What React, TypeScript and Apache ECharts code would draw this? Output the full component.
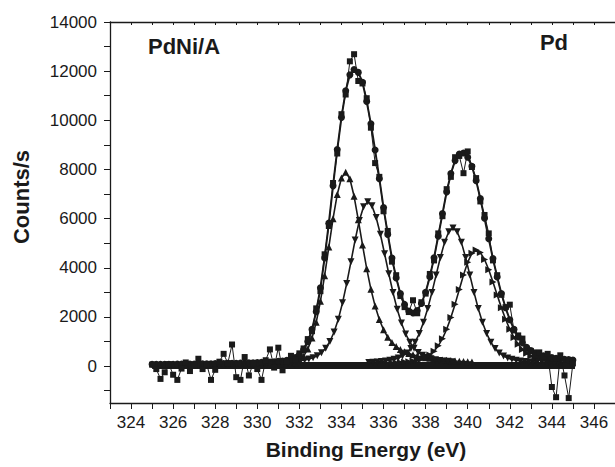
import React, { useEffect, useRef } from "react";
import * as echarts from "echarts";

// Sampling step (eV) of every series
const STEP = 0.2;

// Raw spectrum (squares), from 325.0 eV
const RAW_START = 325.0;
const rawCounts = [
  60, -120, -520, -250, 80, -350, -560, -100, 150, -200,
  20, 300, -120, 60, -560, -150, 180, 500, 120, 880,
  -450, -560, 370, -380, 90, -120, -560, 240, 680, -60,
  750, -170, 180, 420, 260, 520, 720, 1100, 1420, 2350,
  3050, 4550, 5700, 7450, 8650, 10250, 11050, 12400, 12690, 11600,
  11500, 10900, 9700, 8260, 7700, 6300, 5500, 4250, 3700, 2850,
  2400, 2200, 2680, 2150, 2600, 2950, 3750, 4300, 5400, 6100,
  7200, 7700, 8500, 8550, 7850, 8735, 8100, 7650, 6700, 6150,
  5400, 4300, 3700, 2900, 2400, 2500, 1450, 1250, 1120, 700,
  620, 450, 560, 380, 500, -850, -1265, 440, -380, -1300,
  110,
];

// Fitted envelope (circles), from 325.0 eV
const FIT_START = 325.0;
const envelopeCounts = [
  74, 75, 75, 77, 79, 80, 83, 85, 86, 88,
  90, 91, 95, 96, 99, 101, 105, 108, 112, 115,
  120, 124, 130, 135, 140, 147, 154, 161, 170, 180,
  195, 212, 237, 277, 346, 464, 665, 993, 1495, 2212,
  3184, 4399, 5817, 7334, 8813, 10112, 11200, 11850, 12070, 11950,
  11550, 10762, 9858, 8789, 7625, 6450, 5359, 4397, 3587, 2957,
  2511, 2245, 2162, 2262, 2547, 3005, 3630, 4412, 5286, 6206,
  7085, 7839, 8361, 8625, 8667, 8497, 8130, 7546, 6822, 6018,
  5183, 4374, 3624, 2952, 2372, 1889, 1495, 1184, 947, 770,
  638, 541, 471, 418, 378, 346, 319, 299, 281, 265,
  250,
];

// Background under the peaks (thick baseline band)
const backgroundEnergy = [325.0, 345.1];
const backgroundCounts = [30, 30];

// Pd 3d5/2 component I (up triangles), from 330.2 eV
const A_START = 330.2;
const compA = [
  40, 40, 40, 40, 43, 48, 59, 84, 134, 231,
  404, 692, 1141, 1782, 2638, 3680, 4843, 5997, 6983, 7653,
  7890,
  7623, 6909, 5951, 4931, 3965, 3125, 2442, 1900, 1477, 1178,
  958, 794, 676, 587, 517, 459, 415, 378, 345, 317,
  293, 271, 253, 236, 221, 208, 196, 186, 176, 167,
];

// Pd 3d5/2 component II (down triangles), from 331.25 eV
const B_START = 331.25;
const compB = [
  158, 169, 183, 199, 222, 249, 286, 340, 421, 545,
  730, 1003, 1390, 1910, 2574, 3365, 4243, 5134, 5926, 6487,
  6690,
  6520, 6049, 5365, 4572, 3757, 2991, 2316, 1754, 1309, 974,
  730, 558, 440, 359, 303, 264, 230, 211, 194, 180,
];

// Pd 3d3/2 component I (down triangles), from 335.3 eV
const C_START = 335.3;
const compC = [
  148, 159, 172, 186, 206, 236, 275, 331, 414, 537,
  717, 975, 1325, 1782, 2346, 3000, 3711, 4417, 5035, 5464,
  5620,
  5464, 5035, 4417, 3711, 3000, 2346, 1782, 1325, 975, 717,
  537, 414, 331, 275, 236, 206, 186, 172, 159, 148,
];

// Pd 3d3/2 component II (side triangles), from 336.4 eV
const D_START = 336.4;
const compD = [
  130, 140, 150, 163, 179, 205, 237, 284, 354, 457,
  608, 824, 1118, 1501, 1974, 2522, 3119, 3711, 4229, 4589,
  4720,
  4619, 4337, 3918, 3419, 2893, 2380, 1909, 1501, 1161, 889,
  681, 526, 413, 333, 277, 237, 208, 187, 169, 157,
];

// Axis ticks and labels
const X_MIN = 323;
const X_MAX = 347;
const xTickValues = [323, 324, 325, 326, 327, 328, 329, 330, 331, 332, 333, 334, 335, 336, 337, 338, 339, 340, 341, 342, 343, 344, 345, 346, 347];
const xLabelValues = [324, 326, 328, 330, 332, 334, 336, 338, 340, 342, 344, 346];
const Y_MIN = -1500;
const Y_MAX = 14000;
const yTickValues = [-1000, 0, 1000, 2000, 3000, 4000, 5000, 6000, 7000, 8000, 9000, 10000, 11000, 12000, 13000, 14000];
const yLabelValues = [0, 2000, 4000, 6000, 8000, 10000, 12000, 14000];

const FONT = "'Liberation Sans', Arial, Helvetica, sans-serif";
const INK = "#1a1a1a";

function toPairs(start: number, values: number[]) {
  return values.map((v, i) => [Math.round((start + i * STEP) * 1000) / 1000, v]);
}

export default function App() {
  const ref = useRef<HTMLDivElement>(null);

  useEffect(() => {
    if (!ref.current) return;
    const chart = echarts.init(ref.current, undefined, { renderer: "svg" });

    const lineSeries = (
      name: string,
      data: number[][],
      symbol: string,
      size: number,
      rotate: number,
      lw: number,
      z: number
    ) => ({
      name,
      type: "line",
      data,
      symbol,
      symbolSize: size,
      symbolRotate: rotate,
      showSymbol: symbol !== "none",
      showAllSymbol: true,
      itemStyle: { color: INK },
      lineStyle: { color: INK, width: lw },
      z,
      silent: true,
    });

    chart.setOption({
      animation: false,
      backgroundColor: "#ffffff",
      grid: { left: 110, top: 22, width: 507, height: 381, containLabel: false },
      xAxis: [
        {
          type: "value",
          min: X_MIN,
          max: X_MAX,
          position: "bottom",
          axisLine: { show: true, onZero: false, lineStyle: { color: INK, width: 1.3 } },
          axisTick: { show: true, inside: false, length: 6, customValues: xTickValues, lineStyle: { color: INK, width: 1 } },
          axisLabel: {
            show: true,
            customValues: xLabelValues,
            margin: 11,
            color: INK,
            fontSize: 17,
            fontFamily: FONT,
            formatter: (v: number) => String(v),
          },
          splitLine: { show: false },
        },
        {
          type: "value",
          min: X_MIN,
          max: X_MAX,
          position: "top",
          axisLine: { show: true, onZero: false, lineStyle: { color: INK, width: 1.3 } },
          axisTick: { show: true, inside: true, length: 3, customValues: xTickValues, lineStyle: { color: INK, width: 1 } },
          axisLabel: { show: false },
          splitLine: { show: false },
        },
      ],
      yAxis: {
        type: "value",
        min: Y_MIN,
        max: Y_MAX,
        axisLine: { show: true, onZero: false, lineStyle: { color: INK, width: 1.3 } },
        axisTick: { show: true, inside: false, length: 6, customValues: yTickValues, lineStyle: { color: INK, width: 1 } },
        axisLabel: {
          show: true,
          customValues: yLabelValues,
          margin: 13,
          color: INK,
          fontSize: 17,
          fontFamily: FONT,
          formatter: (v: number) => String(v),
        },
        splitLine: { show: false },
      },
      series: [
        lineSeries(
          "Background",
          backgroundEnergy.map((e, i) => [e, backgroundCounts[i]]),
          "none",
          0,
          0,
          7,
          1
        ),
        lineSeries("Pd 3d5/2 I", toPairs(A_START, compA), "triangle", 7, 0, 1.6, 2),
        lineSeries("Pd 3d5/2 II", toPairs(B_START, compB), "triangle", 7, 180, 1.6, 2),
        lineSeries("Pd 3d3/2 I", toPairs(C_START, compC), "triangle", 7, 180, 1.6, 2),
        lineSeries("Pd 3d3/2 II", toPairs(D_START, compD), "triangle", 7, -90, 1.6, 2),
        lineSeries("Envelope", toPairs(FIT_START, envelopeCounts), "circle", 7, 0, 2, 3),
        lineSeries("Raw", toPairs(RAW_START, rawCounts), "rect", 6, 0, 1, 4),
      ],
      graphic: [
        {
          type: "text",
          x: 148,
          y: 46,
          style: { text: "PdNi/A", font: `bold 22px ${FONT}`, fill: INK, textAlign: "left", textVerticalAlign: "middle" },
        },
        {
          type: "text",
          x: 554,
          y: 42,
          style: { text: "Pd", font: `bold 22px ${FONT}`, fill: INK, textAlign: "center", textVerticalAlign: "middle" },
        },
        {
          type: "text",
          x: 21,
          y: 197,
          rotation: Math.PI / 2,
          style: { text: "Counts/s", font: `bold 22px ${FONT}`, fill: INK, textAlign: "center", textVerticalAlign: "middle" },
        },
        {
          type: "text",
          x: 366,
          y: 449,
          style: { text: "Binding Energy (eV)", font: `bold 21px ${FONT}`, fill: INK, textAlign: "center", textVerticalAlign: "middle" },
        },
      ],
    });

    return () => {
      chart.dispose();
    };
  }, []);

  return <div ref={ref} style={{ width: 615, height: 467, position: "absolute", left: 0, top: 0 }} />;
}
